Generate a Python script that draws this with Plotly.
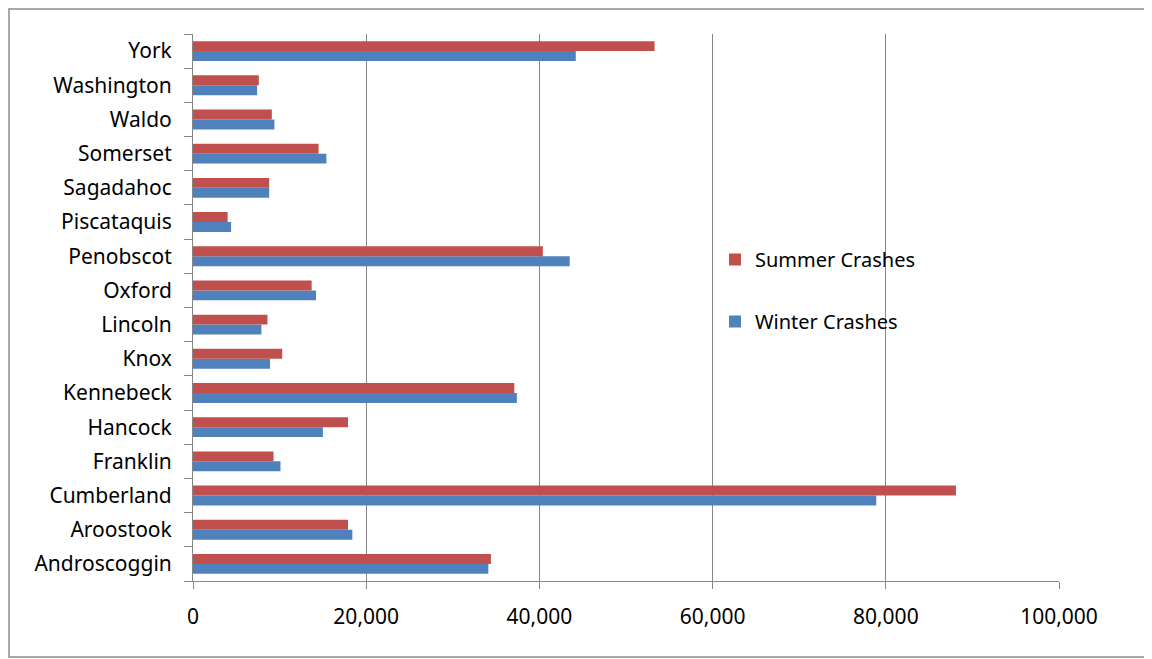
import plotly.graph_objects as go

counties = ["Androscoggin", "Aroostook", "Cumberland", "Franklin", "Hancock", "Kennebeck",
            "Knox", "Lincoln", "Oxford", "Penobscot", "Piscataquis", "Sagadahoc",
            "Somerset", "Waldo", "Washington", "York"]
summer_crashes = [34400, 17900, 88100, 9300, 17900, 37100,
                  10300, 8600, 13700, 40400, 4000, 8800,
                  14500, 9100, 7600, 53300]
winter_crashes = [34100, 18400, 78900, 10100, 15000, 37400,
                  8900, 7900, 14200, 43500, 4400, 8800,
                  15400, 9400, 7400, 44200]
x_tickvals = [0, 20000, 40000, 60000, 80000, 100000]
x_ticktext = ["0", "20,000", "40,000", "60,000", "80,000", "100,000"]

FONT = "Noto Sans"
GRID = "#868686"

W, H = 1144, 651
L, R, T, B = 185, 93, 26, 78
PW, PH = W - L - R, H - T - B

fig = go.Figure()
fig.add_trace(go.Bar(y=counties, x=winter_crashes, orientation="h", name="Winter Crashes",
                     marker=dict(color="#4F81BD", line=dict(width=0)), legendrank=2,
                     legendgroup="w"))
fig.add_trace(go.Bar(y=counties, x=summer_crashes, orientation="h", name="Summer Crashes",
                     marker=dict(color="#C0504D", line=dict(width=0)), legendrank=1,
                     legendgroup="s"))

fig.update_layout(
    width=W, height=H,
    margin=dict(l=L, r=R, t=T, b=B, autoexpand=False),
    paper_bgcolor="white", plot_bgcolor="white",
    barmode="group", bargap=0.42, bargroupgap=0,
    font=dict(family=FONT, size=21, color="#000000"),
    legend=dict(xref="container", yref="container", x=707 / W, y=1 - 232 / H,
                xanchor="left", yanchor="top", tracegroupgap=33,
                font=dict(family=FONT, size=20), bgcolor="rgba(0,0,0,0)"),
    xaxis=dict(range=[0, 100000], tickvals=x_tickvals, ticktext=x_ticktext,
               showgrid=True, gridcolor=GRID, gridwidth=1,
               showline=True, linecolor=GRID, linewidth=1,
               ticks="outside", ticklen=7, tickcolor=GRID,
               ticklabelstandoff=10, zeroline=False,
               tickfont=dict(family=FONT, size=21)),
    yaxis=dict(type="category", categoryorder="array", categoryarray=counties,
               showgrid=False, showline=True, linecolor=GRID, linewidth=1,
               ticks="outside", ticklen=8, tickcolor=GRID, tickson="boundaries",
               ticklabelstandoff=16, tickfont=dict(family=FONT, size=21)),
    shapes=[dict(type="rect", xref="paper", yref="paper",
                 x0=(1 - L) / PW, x1=(1139 - L) / PW,
                 y0=-(649 - (H - B)) / PH, y1=1 + (T - 1) / PH,
                 line=dict(color="#8C8C8C", width=1.5), layer="below")],
)

fig.write_html("out.html")
